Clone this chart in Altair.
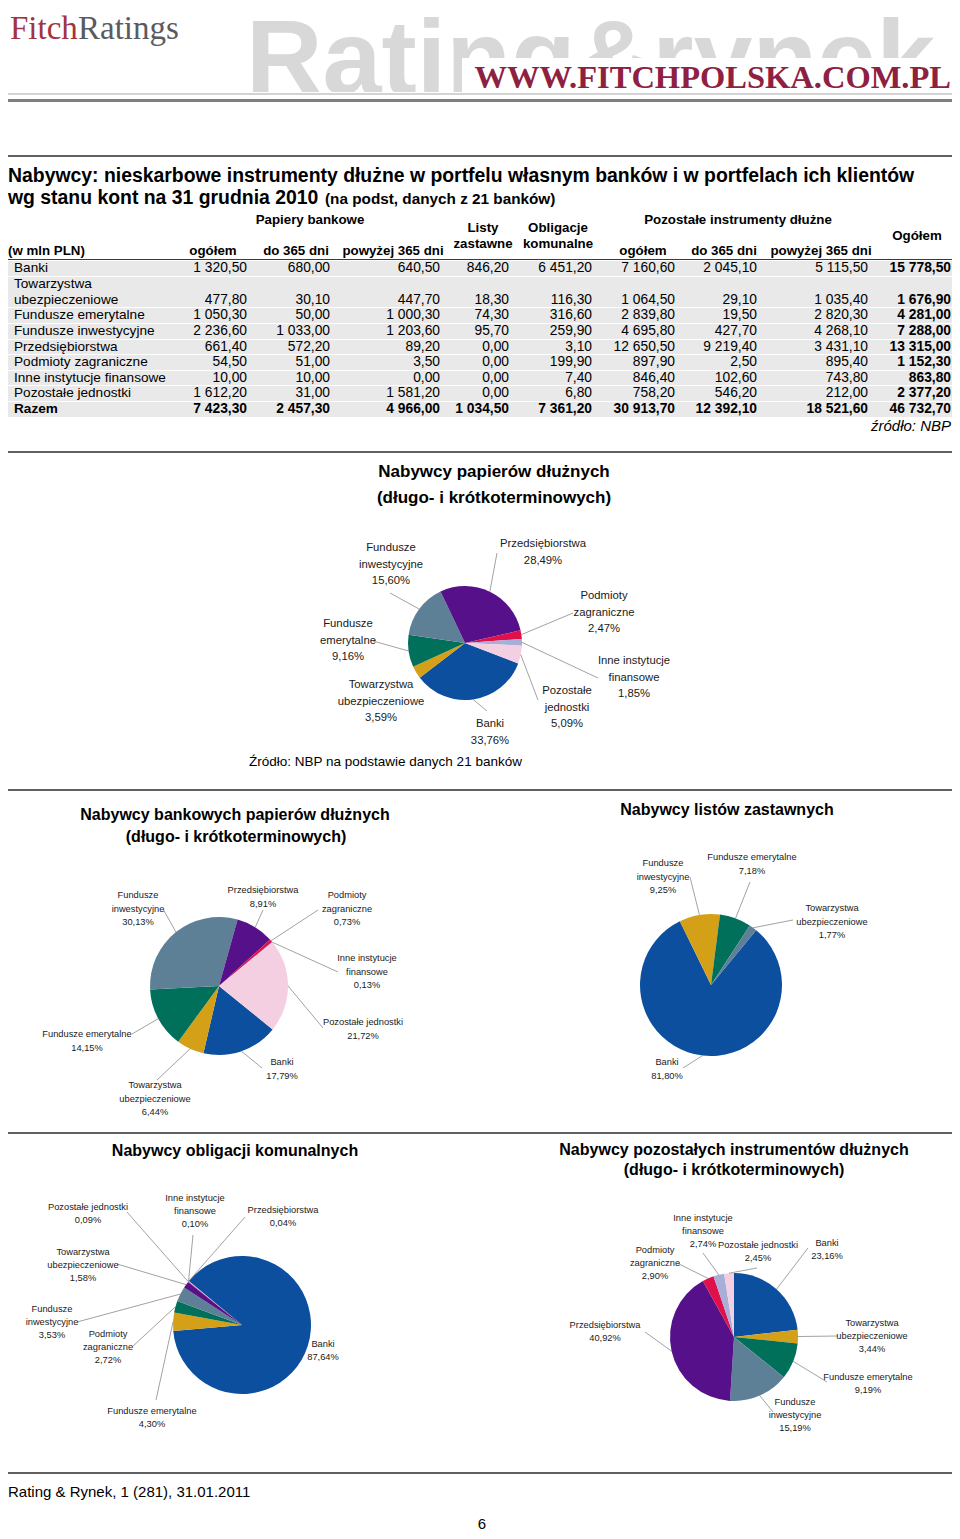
import math
import altair as alt
import pandas as pd

# ---------------- DATA ----------------
categories = ["Banki", "Towarzystwa ubezpieczeniowe", "Fundusze emerytalne",
              "Fundusze inwestycyjne", "Przedsiębiorstwa", "Podmioty zagraniczne",
              "Inne instytucje finansowe", "Pozostałe jednostki"]

pb_ogolem = [1320.50, 477.80, 1050.30, 2236.60, 661.40, 54.50, 10.00, 1612.20]
pb_do365 = [680.00, 30.10, 50.00, 1033.00, 572.20, 51.00, 10.00, 31.00]
pb_pow365 = [640.50, 447.70, 1000.30, 1203.60, 89.20, 3.50, 0.00, 1581.20]
listy_zastawne = [846.20, 18.30, 74.30, 95.70, 0.00, 0.00, 0.00, 0.00]
oblig_komunalne = [6451.20, 116.30, 316.60, 259.90, 3.10, 199.90, 7.40, 6.80]
poz_ogolem = [7160.60, 1064.50, 2839.80, 4695.80, 12650.50, 897.90, 846.40, 758.20]
poz_do365 = [2045.10, 29.10, 19.50, 427.70, 9219.40, 2.50, 102.60, 546.20]
poz_pow365 = [5115.50, 1035.40, 2820.30, 4268.10, 3431.10, 895.40, 743.80, 212.00]
ogolem = [15778.50, 1676.90, 4281.00, 7288.00, 13315.00, 1152.30, 863.80, 2377.20]
razem = [7423.30, 2457.30, 4966.00, 1034.50, 7361.20, 30913.70, 12392.10, 18521.60, 46732.70]

# pie shares in % (same category order as above)
share_all = [33.76, 3.59, 9.16, 15.60, 28.49, 2.47, 1.85, 5.09]
share_bank = [17.79, 6.44, 14.15, 30.13, 8.91, 0.73, 0.13, 21.72]
share_listy = [81.80, 1.77, 7.18, 9.25, 0.00, 0.00, 0.00, 0.00]
share_oblig = [87.64, 1.58, 4.30, 3.53, 0.04, 2.72, 0.10, 0.09]
share_pozost = [23.16, 3.44, 9.19, 15.19, 40.92, 2.90, 2.74, 2.45]

# ---------------- STYLE / LAYOUT ----------------
SANS = "Liberation Sans, Arial, sans-serif"
SERIF = "Liberation Serif, Times New Roman, serif"
PAL = ["#0B4F9E", "#D4A017", "#00705A", "#5E8097", "#55108A", "#E0104A", "#A7AED8", "#F4CFE2"]
W, H = 944, 1523
XR = 8 + W  # right edge of the drawing, in page pixels
XS = alt.Scale(domain=[8, 8 + W], range=[0, W])
YS = alt.Scale(domain=[8, 8 + H], range=[0, H])

B, T, FE, FI, PR, PZ, II, PJ = categories


def pl(v):
    s = f"{v:,.2f}"
    return s.replace(",", " ").replace(".", ",")


def pct(v):
    return f"{v:.2f}".replace(".", ",") + "%"


def xy(xf="x", yf="y"):
    return dict(x=alt.X(f"{xf}:Q", scale=XS, axis=None),
                y=alt.Y(f"{yf}:Q", scale=YS, axis=None))


def text_layer(rows, size, weight="normal", align="center", font=SANS,
               color="#000000", style="normal", baseline="middle"):
    df = pd.DataFrame(rows, columns=["x", "y", "t"])
    return alt.Chart(df).mark_text(
        fontSize=size, fontWeight=weight, align=align, baseline=baseline,
        font=font, color=color, fontStyle=style
    ).encode(text="t:N", **xy())


def rule_layer(rows, color, width):
    df = pd.DataFrame(rows, columns=["x", "y", "x2", "y2"])
    return alt.Chart(df).mark_rule(color=color, strokeWidth=width).encode(
        x2="x2:Q", y2="y2:Q", **xy())


def rect_layer(rows, color):
    df = pd.DataFrame(rows, columns=["x", "y", "x2", "y2"])
    return alt.Chart(df).mark_rect(color=color).encode(x2="x2:Q", y2="y2:Q", **xy())


layers = []

# ---------------- HEADER ----------------
layers.append(text_layer([(246, 94, "Rating&rynek")], 106, "bold", "left",
                         color="#D8D8D8", baseline="alphabetic"))
layers.append(rect_layer([(462, 58, XR, 92), (240, 92, XR, 118)], "#FFFFFF"))
layers.append(text_layer([(951, 88, "WWW.FITCHPOLSKA.COM.PL")], 32.5, "bold", "right",
                         font=SERIF, color="#8E2141", baseline="alphabetic"))
layers.append(text_layer([(10, 39, "Fitch")], 33, "normal", "left",
                         font=SERIF, color="#A3333F", baseline="alphabetic"))
layers.append(text_layer([(78, 39, "Ratings")], 33, "normal", "left",
                         font=SERIF, color="#5A5A62", baseline="alphabetic"))
layers.append(rule_layer([(8, 94, XR, 94)], "#A8A8A8", 1.2))
layers.append(rule_layer([(8, 100.5, XR, 100.5)], "#7F7F7F", 3))
layers.append(rule_layer([(8, 156, XR, 156), (8, 452, XR, 452), (8, 790, XR, 790),
                          (8, 1133, XR, 1133), (8, 1473, XR, 1473)], "#2B2B2B", 1.6))

# ---------------- TABLE ----------------
layers.append(text_layer([(8, 176, "Nabywcy: nieskarbowe instrumenty dłużne w portfelu własnym banków i w portfelach ich klientów"),
                          (8, 198, "wg stanu kont na 31 grudnia 2010")], 19.4, "bold", "left"))
layers.append(text_layer([(325, 199, "(na podst, danych z 21 banków)")], 15.3, "bold", "left"))

band_rows = [(261, 276), (277, 307), (308, 323), (324, 339), (340, 354), (355, 370),
             (371, 385), (386, 401), (402, 417)]
layers.append(rect_layer([(8, a, XR, b) for a, b in band_rows], "#E9E9E9"))
layers.append(rule_layer([(8, 259.5, XR, 259.5)], "#3A3A3A", 1.2))

hdr_center = [(310, 220, "Papiery bankowe"), (483, 228, "Listy"), (483, 244, "zastawne"),
              (558, 228, "Obligacje"), (558, 244, "komunalne"),
              (738, 220, "Pozostałe instrumenty dłużne"), (917, 236, "Ogółem"),
              (213, 251, "ogółem"), (296, 251, "do 365 dni"), (393, 251, "powyżej 365 dni"),
              (643, 251, "ogółem"), (724, 251, "do 365 dni"), (821, 251, "powyżej 365 dni")]
layers.append(text_layer(hdr_center, 13.3, "bold", "center"))
layers.append(text_layer([(8, 251, "(w mln PLN)")], 13.3, "bold", "left"))

row_y = [268, 300, 315, 331, 347, 362, 378, 393]
razem_y = 409
col_right = [247, 330, 440, 509, 592, 675, 757, 868, 951]
columns = [pb_ogolem, pb_do365, pb_pow365, listy_zastawne, oblig_komunalne,
           poz_ogolem, poz_do365, poz_pow365]

row_labels = []
for i, c in enumerate(categories):
    if c == T:
        row_labels += [(14, 284, "Towarzystwa"), (14, row_y[i], "ubezpieczeniowe")]
    else:
        row_labels.append((14, row_y[i], c))
layers.append(text_layer(row_labels, 13.6, "normal", "left"))
layers.append(text_layer([(14, razem_y, "Razem")], 13.6, "bold", "left"))

num_reg = []
for ci, col in enumerate(columns):
    for ri, v in enumerate(col):
        num_reg.append((col_right[ci], row_y[ri], pl(v)))
layers.append(text_layer(num_reg, 13.8, "normal", "right"))
num_bold = [(col_right[8], row_y[ri], pl(v)) for ri, v in enumerate(ogolem)]
num_bold += [(col_right[ci], razem_y, pl(v)) for ci, v in enumerate(razem)]
layers.append(text_layer(num_bold, 13.8, "bold", "right"))
layers.append(text_layer([(951, 426, "źródło: NBP")], 15, "normal", "right", style="italic"))

# ---------------- PIES ----------------
pies = [
    dict(title=[(494, 472, "Nabywcy papierów dłużnych"), (494, 498, "(długo- i krótkoterminowych)")],
         tsize=17, shares=share_all, cx=465, cy=643, r=57, start=111,
         order=[B, T, FE, FI, PR, PZ, II, PJ], fs=11.3, lh=16.5,
         labels={B: (490, 724, ["Banki"], (487, 711)),
                 T: (381, 685, ["Towarzystwa", "ubezpieczeniowe"], None),
                 FE: (348, 624, ["Fundusze", "emerytalne"], (373, 641)),
                 FI: (391, 548, ["Fundusze", "inwestycyjne"], (390, 593)),
                 PR: (543, 544, ["Przedsiębiorstwa"], (497, 553)),
                 PZ: (604, 596, ["Podmioty", "zagraniczne"], (573, 613)),
                 II: (634, 661, ["Inne instytucje", "finansowe"], (598, 678)),
                 PJ: (567, 691, ["Pozostałe", "jednostki"], (538, 700))}),
    dict(title=[(235, 815, "Nabywcy bankowych papierów dłużnych"), (236, 837, "(długo- i krótkoterminowych)")],
         tsize=16, shares=share_bank, cx=219, cy=986, r=69, start=129,
         order=[B, T, FE, FI, PR, PZ, II, PJ], fs=9.3, lh=13.5,
         labels={FI: (138, 895, ["Fundusze", "inwestycyjne"], (163, 909)),
                 PR: (263, 890, ["Przedsiębiorstwa"], (263, 910)),
                 PZ: (347, 895, ["Podmioty", "zagraniczne"], (318, 910)),
                 II: (367, 958, ["Inne instytucje", "finansowe"], (338, 972)),
                 PJ: (363, 1022, ["Pozostałe jednostki"], (323, 1028)),
                 FE: (87, 1034, ["Fundusze emerytalne"], (132, 1034)),
                 B: (282, 1062, ["Banki"], (262, 1068)),
                 T: (155, 1085, ["Towarzystwa", "ubezpieczeniowe"], (157, 1080))}),
    dict(title=[(727, 810, "Nabywcy listów zastawnych")],
         tsize=16, shares=share_listy, cx=711, cy=985, r=71, start=39.5,
         order=[B, FI, FE, T], fs=9.3, lh=13.5,
         labels={FI: (663, 863, ["Fundusze", "inwestycyjne"], (690, 877)),
                 FE: (752, 857, ["Fundusze emerytalne"], (750, 882)),
                 T: (832, 908, ["Towarzystwa", "ubezpieczeniowe"], (793, 920)),
                 B: (667, 1062, ["Banki"], (683, 1068))}),
    dict(title=[(235, 1151, "Nabywcy obligacji komunalnych")],
         tsize=16, shares=share_oblig, cx=242, cy=1325, r=69, start=309.5,
         order=[B, FE, PZ, FI, T, PJ, II, PR], fs=9.3, lh=12.8,
         labels={PJ: (88, 1207, ["Pozostałe jednostki"], (127, 1212)),
                 II: (195, 1198, ["Inne instytucje", "finansowe"], (193, 1235)),
                 PR: (283, 1210, ["Przedsiębiorstwa"], (245, 1217)),
                 T: (83, 1252, ["Towarzystwa", "ubezpieczeniowe"], (117, 1264)),
                 FI: (52, 1309, ["Fundusze", "inwestycyjne"], (77, 1322)),
                 PZ: (108, 1334, ["Podmioty", "zagraniczne"], (132, 1347)),
                 FE: (152, 1411, ["Fundusze emerytalne"], (156, 1400)),
                 B: (323, 1344, ["Banki"], None)}),
    dict(title=[(734, 1150, "Nabywcy pozostałych instrumentów dłużnych"), (734, 1170, "(długo- i krótkoterminowych)")],
         tsize=16, shares=share_pozost, cx=734, cy=1337, r=64, start=0,
         order=[B, T, FE, FI, PR, PZ, II, PJ], fs=9.3, lh=12.8,
         labels={II: (703, 1218, ["Inne instytucje", "finansowe"], (703, 1253)),
                 PJ: (758, 1245, ["Pozostałe jednostki"], (757, 1268)),
                 B: (827, 1243, ["Banki"], (808, 1248)),
                 PZ: (655, 1250, ["Podmioty", "zagraniczne"], (677, 1263)),
                 PR: (605, 1325, ["Przedsiębiorstwa"], (645, 1332)),
                 T: (872, 1323, ["Towarzystwa", "ubezpieczeniowe"], (838, 1336)),
                 FE: (868, 1377, ["Fundusze emerytalne"], (827, 1382)),
                 FI: (795, 1402, ["Fundusze", "inwestycyjne"], (773, 1412))}),
]

arc_layers = []
for p in pies:
    val = dict(zip(categories, p["shares"]))
    rows, cum = [], 0.0
    total = sum(val[c] for c in p["order"])
    leaders, labels = [], []
    for k, c in enumerate(p["order"]):
        v = val[c]
        if v <= 0:
            continue
        rows.append(dict(cat=c, t0=cum, t1=cum + v, col=PAL[k], x=p["cx"], y=p["cy"]))
        mid = math.radians(p["start"] + 360.0 * (cum + v / 2) / total)
        cum += v
        if c in p["labels"]:
            lx, ly, lines, lend = p["labels"][c]
            for j, s in enumerate(lines + [pct(v)]):
                labels.append((lx, ly + j * p["lh"], s))
            if lend is not None:
                ex = p["cx"] + p["r"] * math.sin(mid)
                ey = p["cy"] - p["r"] * math.cos(mid)
                leaders.append((lend[0], lend[1], ex, ey))
    a0 = math.radians(p["start"])
    df = pd.DataFrame(rows)
    arc_layers.append(alt.Chart(df).mark_arc(radius=p["r"]).encode(
        theta=alt.Theta("t0:Q", scale=alt.Scale(domain=[0, total], range=[a0, a0 + 2 * math.pi])),
        theta2="t1:Q",
        color=alt.Color("col:N", scale=None, legend=None),
        **xy()))
    layers.append(text_layer(p["title"], p["tsize"], "bold", "center"))
    layers.append(rule_layer(leaders, "#8A8A8A", 0.8))
    layers.append(text_layer(labels, p["fs"], "normal", "center", color="#1A1A1A"))

layers.append(text_layer([(249, 762, "Źródło: NBP na podstawie danych 21 banków")], 13.5, "normal", "left"))
layers.append(text_layer([(8, 1492, "Rating & Rynek, 1 (281), 31.01.2011")], 15, "normal", "left"))
layers.append(text_layer([(482, 1524, "6")], 15, "normal", "center"))

chart = alt.layer(*(arc_layers + layers)).resolve_scale(theta="independent").properties(
    width=W, height=H, padding=0, autosize=alt.AutoSizeParams(type="none")
).configure_view(stroke=None)

chart.save("out.html", embed_options={"renderer": "svg", "actions": False})
